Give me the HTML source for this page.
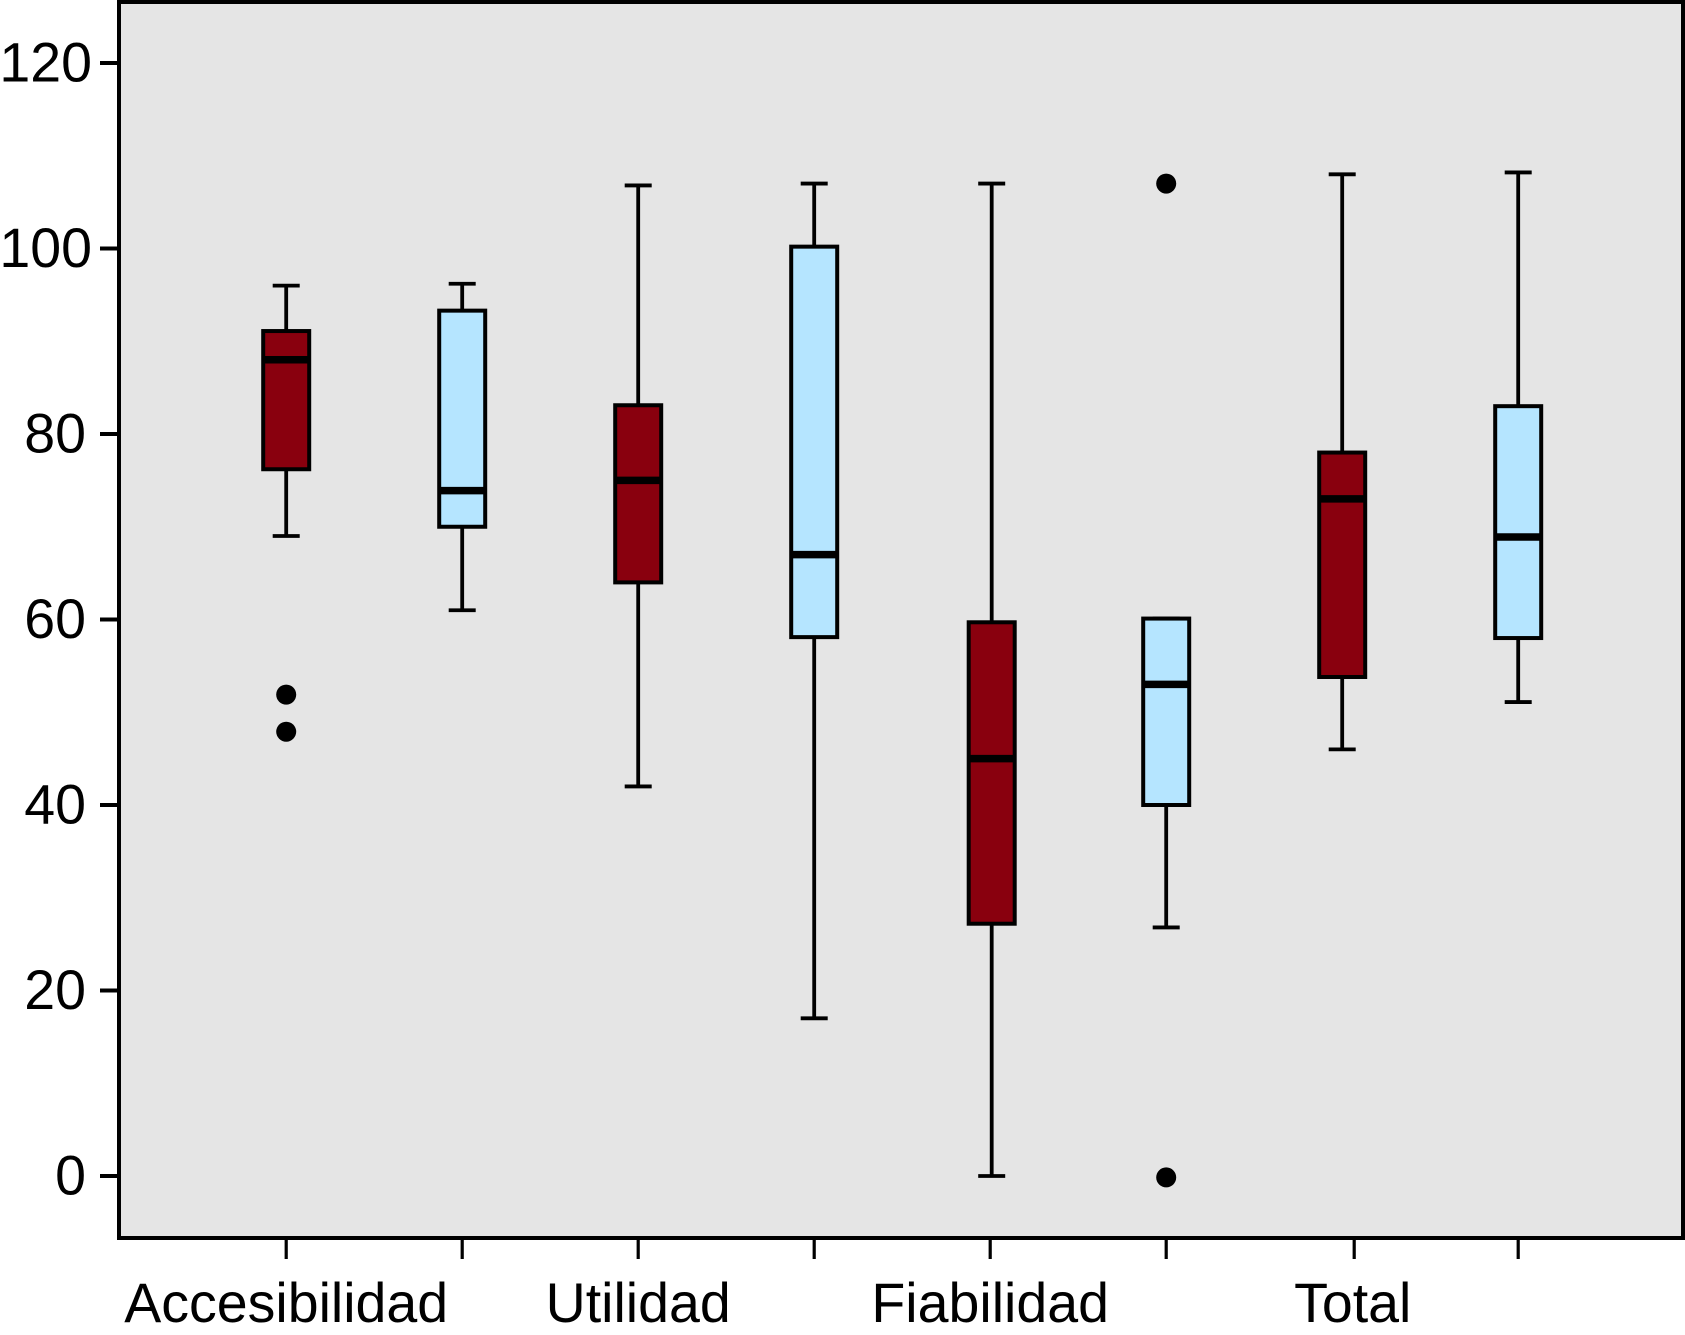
<!DOCTYPE html>
<html lang="es">
<head>
<meta charset="utf-8">
<title>Boxplot</title>
<style>
html,body{margin:0;padding:0;background:#fff;width:1685px;height:1335px;overflow:hidden}
svg{display:block}
text{font-family:"Liberation Sans",Arial,sans-serif;font-size:55.5px;fill:#000}
</style>
</head>
<body>
<svg id="chart" width="1685" height="1335" viewBox="0 0 1685 1335" xmlns="http://www.w3.org/2000/svg">
  <rect x="119" y="2" width="1564" height="1236" fill="#e5e5e5"/>
  <g id="marks"></g>
  <rect x="119" y="2" width="1564" height="1236" fill="none" stroke="#000" stroke-width="4"/>
  <g id="axes"></g>
</svg>
<script>
const yTicks = [0, 20, 40, 60, 80, 100, 120];
const groupLabels = ['Accesibilidad', 'Utilidad', 'Fiabilidad', 'Total'];
const whiskerLow = [69, 61, 42, 17, 0, 26.8, 46, 51.1];
const boxLow = [76.2, 70, 64, 58.1, 27.2, 40, 53.8, 58];
const medians = [88, 73.9, 75, 67, 45, 53, 73, 68.9];
const boxHigh = [91.1, 93.3, 83.1, 100.2, 59.7, 60.1, 78, 83];
const whiskerHigh = [96, 96.2, 106.8, 107, 107, 60.1, 108, 108.2];
const outliers = [[51.9, 47.9], [], [], [], [], [107, -0.15], [], []];

const NS = 'http://www.w3.org/2000/svg';
const marks = document.getElementById('marks');
const axes = document.getElementById('axes');
const yScale = v => 1176 - 9.275 * v;
const xScale = i => 286.2 + 176 * i + (i === 4 ? 1.5 : 0);
// The printed tick and label of the seventh position sit right of its box.
const tickX = i => 286.2 + 176 * i + (i === 6 ? 12 : 0);

function make(parent, tag, props) {
  const el = document.createElementNS(NS, tag);
  for (const k in props) el.setAttribute(k, props[k]);
  parent.appendChild(el);
  return el;
}
function seg(parent, x1, y1, x2, y2, w) {
  return make(parent, 'line', {x1, y1, x2, y2, stroke: '#000', 'stroke-width': w});
}

medians.forEach((m, i) => {
  const x = xScale(i);
  const fill = i % 2 === 0 ? '#89000e' : '#b5e5ff';
  const g = make(marks, 'g', {});
  
  

  const stem = seg(g, x, yScale(whiskerLow[i]), x, yScale(whiskerHigh[i]), 3.8);
  
  

  const capHigh = seg(g, x - 13.5, yScale(whiskerHigh[i]), x + 13.5, yScale(whiskerHigh[i]), 3.8);
  
  

  const capLow = seg(g, x - 13.5, yScale(whiskerLow[i]), x + 13.5, yScale(whiskerLow[i]), 3.8);
  
  

  const box = make(g, 'rect', {
    x: x - 23, y: yScale(boxHigh[i]), width: 46,
    height: yScale(boxLow[i]) - yScale(boxHigh[i]),
    fill: fill, stroke: '#000', 'stroke-width': 4
  });
  
  

  const med = seg(g, x - 23, yScale(m), x + 23, yScale(m), 7.5);
  
  

  outliers[i].forEach(v => {
    const dot = make(g, 'circle', {cx: x, cy: yScale(v), r: 10, fill: '#000'});
    
    
  });
});

yTicks.forEach(v => {
  const t = seg(axes, 100, yScale(v), 119, yScale(v), 4);
  
  

  const label = make(axes, 'text', {x: v >= 100 ? 92 : 86, y: yScale(v) + 18.5, 'text-anchor': 'end'});
  label.textContent = v;
  
  
});

medians.forEach((m, i) => {
  const t = seg(axes, tickX(i), 1238, tickX(i), 1259, 3.2);
  
  
});

groupLabels.forEach((name, j) => {
  const label = make(axes, 'text', {x: tickX(j * 2) - (j === 3 ? 1.5 : 0), y: 1322, 'text-anchor': 'middle'});
  label.textContent = name;
  
  
});
</script>
</body>
</html>
